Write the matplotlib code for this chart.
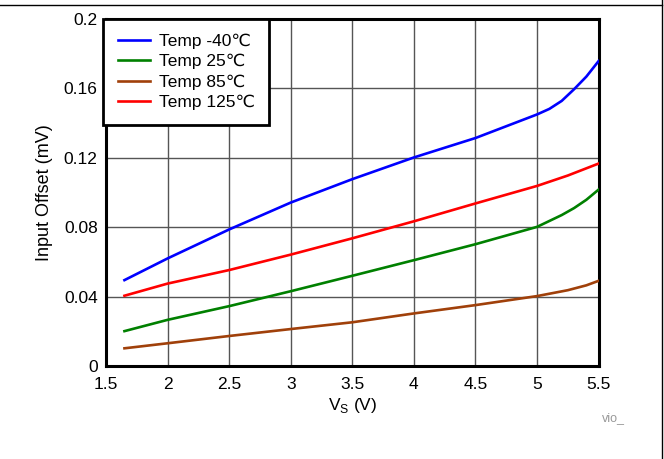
import matplotlib
matplotlib.use("Agg")
import matplotlib.pyplot as plt
from matplotlib.lines import Line2D

# Data
vs_cold = [1.65, 2.0, 2.5, 3.0, 3.5, 4.0, 4.5, 5.0, 5.1, 5.2, 5.3, 5.4, 5.5]
offset_cold = [0.0495, 0.062, 0.0787, 0.0942, 0.1077, 0.1202, 0.1314, 0.145, 0.1482, 0.1528, 0.1595, 0.1668, 0.1758]

vs_25 = [1.65, 2.0, 2.5, 3.0, 3.5, 4.0, 4.5, 5.0, 5.2, 5.3, 5.4, 5.5]
offset_25 = [0.0201, 0.0266, 0.0345, 0.0431, 0.052, 0.061, 0.0702, 0.0802, 0.087, 0.091, 0.0958, 0.1017]

vs_85 = [1.65, 2.0, 2.5, 3.0, 3.5, 4.0, 4.5, 5.0, 5.25, 5.4, 5.5]
offset_85 = [0.0102, 0.0131, 0.0173, 0.0213, 0.0252, 0.0303, 0.0351, 0.0403, 0.0437, 0.0465, 0.0491]

vs_125 = [1.65, 2.0, 2.5, 3.0, 3.5, 4.0, 4.5, 5.0, 5.25, 5.5]
offset_125 = [0.0405, 0.0475, 0.0553, 0.0642, 0.0736, 0.0834, 0.0937, 0.1038, 0.1098, 0.1167]

series_labels = ["Temp -40℃", "Temp 25℃", "Temp 85℃", "Temp 125℃"]
series_colors = ["#0000FF", "#008000", "#A0400A", "#FF0000"]

x_ticks = [1.5, 2, 2.5, 3, 3.5, 4, 4.5, 5, 5.5]
x_tick_labels = ["1.5", "2", "2.5", "3", "3.5", "4", "4.5", "5", "5.5"]
y_ticks = [0, 0.04, 0.08, 0.12, 0.16, 0.2]
y_tick_labels = ["0", "0.04", "0.08", "0.12", "0.16", "0.2"]

plt.rcParams['font.family'] = ['Liberation Sans', 'DejaVu Sans']
plt.rcParams['font.size'] = 12

fig = plt.figure(figsize=(6.64, 4.59), dpi=100)
ax = fig.add_axes([0.1596, 0.2026, 0.742, 0.756])

all_x = [vs_cold, vs_25, vs_85, vs_125]
all_y = [offset_cold, offset_25, offset_85, offset_125]
for xs, ys, lab, col in zip(all_x, all_y, series_labels, series_colors):
    ax.plot(xs, ys, color=col, linewidth=1.9, label=lab, zorder=3)

ax.set_xlim(1.5, 5.5)
ax.set_ylim(0, 0.2)
ax.set_xticks(x_ticks)
ax.set_xticklabels(x_tick_labels)
ax.set_yticks(y_ticks)
ax.set_yticklabels(y_tick_labels)
ax.tick_params(length=0, labelsize=12.5, colors='black')
ax.tick_params(axis='x', pad=8)
ax.tick_params(axis='y', pad=6)
ax.grid(True, color='#555555', linewidth=1.0)
ax.set_axisbelow(True)
for sp in ax.spines.values():
    sp.set_linewidth(2.2)
    sp.set_color('black')

ax.set_xlabel(r"V$_\mathregular{S}$ (V)", fontsize=12.5, labelpad=3)
ax.set_ylabel("Input Offset (mV)", fontsize=13, labelpad=8)

leg = ax.legend(loc='upper left', bbox_to_anchor=(-0.006, 1.0), borderaxespad=0,
                fontsize=12.5, handlelength=1.85, handletextpad=0.5,
                labelspacing=0.28, borderpad=0.85, fancybox=False, framealpha=1)
leg.get_frame().set_edgecolor('black')
leg.get_frame().set_linewidth(2.0)

fig.text(0.906, 0.083, "vio_", fontsize=9, color='#999999')

# outer border lines at top and right
fig.add_artist(Line2D([0, 0.997], [0.989, 0.989], color='black', linewidth=1.0))
fig.add_artist(Line2D([0.997, 0.997], [0, 1], color='black', linewidth=1.0))

fig.savefig("out.png", dpi=100)
